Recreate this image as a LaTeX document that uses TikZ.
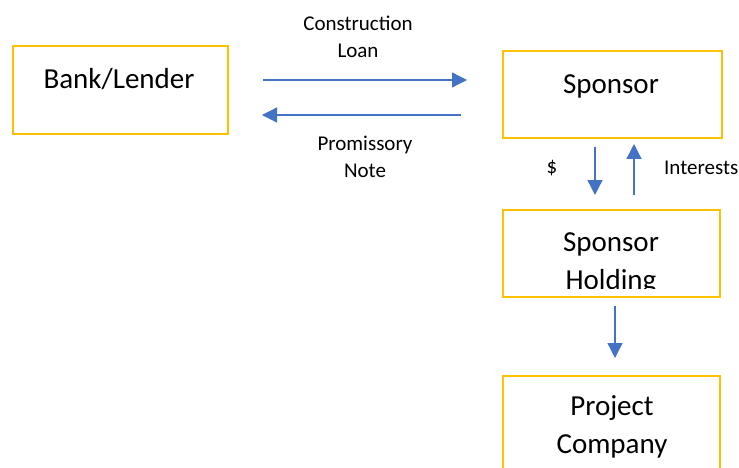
\documentclass[tikz,border=0pt]{standalone}
\usepackage{fontspec}
\setmainfont{Carlito}
\usetikzlibrary{arrows.meta,calc}
\definecolor{boxgold}{HTML}{FFC000}
\definecolor{flowblue}{HTML}{4472C4}
\tikzset{
  entity/.style={draw=boxgold, line width=2.7pt, rectangle, inner sep=0pt},
  bigtext/.style={font=\fontsize{29}{38}\selectfont, inner sep=0pt, align=center},
  smalltext/.style={font=\fontsize{21}{27}\selectfont, inner sep=0pt, align=center},
  flow/.style={draw=flowblue, line width=1.3pt, -{Triangle[length=15pt,width=15pt]}}
}
\begin{document}
\begin{tikzpicture}[x=1pt,y=-1pt]
  \clip (0,0) rectangle (739,468);
  \fill[white] (0,0) rectangle (739,468);

  % entity boxes
  \node[entity, minimum width=215pt, minimum height=88pt] (bank) at (120.5,90) {};
  \node[entity, minimum width=219pt, minimum height=87pt] (sponsor) at (612.5,94.5) {};
  \node[entity, minimum width=217pt, minimum height=87pt] (holding) at (611.5,253.5) {};
  \node[entity, minimum width=217pt, minimum height=110pt] (project) at (611.5,431) {};

  % box captions (base anchor = baseline of the last line)
  \node[bigtext, anchor=base] (banktxt) at (119,89) {Bank/Lender};
  \node[bigtext, anchor=base] (sponsortxt) at (611,94) {Sponsor};
  \begin{scope}
    \clip (holding.north west) rectangle ($(holding.south east)+(0,-10)$);
    \node[bigtext, anchor=base] (holdingtxt) at (611,289) {Sponsor\\Holding};
  \end{scope}
  \node[bigtext, anchor=base] (projecttxt) at (612,453) {Project\\Company};

  % arrow end points
  \coordinate (loanA) at (263,80);
  \coordinate (loanB) at (467,80);
  \coordinate (noteA) at (461,115);
  \coordinate (noteB) at (262,115);
  \coordinate (cashA) at (595,147);
  \coordinate (cashB) at (595,195);
  \coordinate (intA) at (634,195);
  \coordinate (intB) at (634,144);
  \coordinate (projA) at (615,306);
  \coordinate (projB) at (615,358);

  % flows
  \draw[flow] (loanA) -- (loanB);
  \draw[flow] (noteA) -- (noteB);
  \draw[flow] (cashA) -- (cashB);
  \draw[flow] (intA) -- (intB);
  \draw[flow] (projA) -- (projB);

  % flow labels
  \node[smalltext, anchor=base] (loanlbl) at (358,58) {Construction\\Loan};
  \node[smalltext, anchor=base] (notelbl) at (365,178) {Promissory\\Note};
  \node[smalltext, anchor=base] (cashlbl) at (552,173) {\$};
  \node[smalltext, anchor=base west] (intlbl) at (664,175) {Interests};
\end{tikzpicture}
\end{document}
